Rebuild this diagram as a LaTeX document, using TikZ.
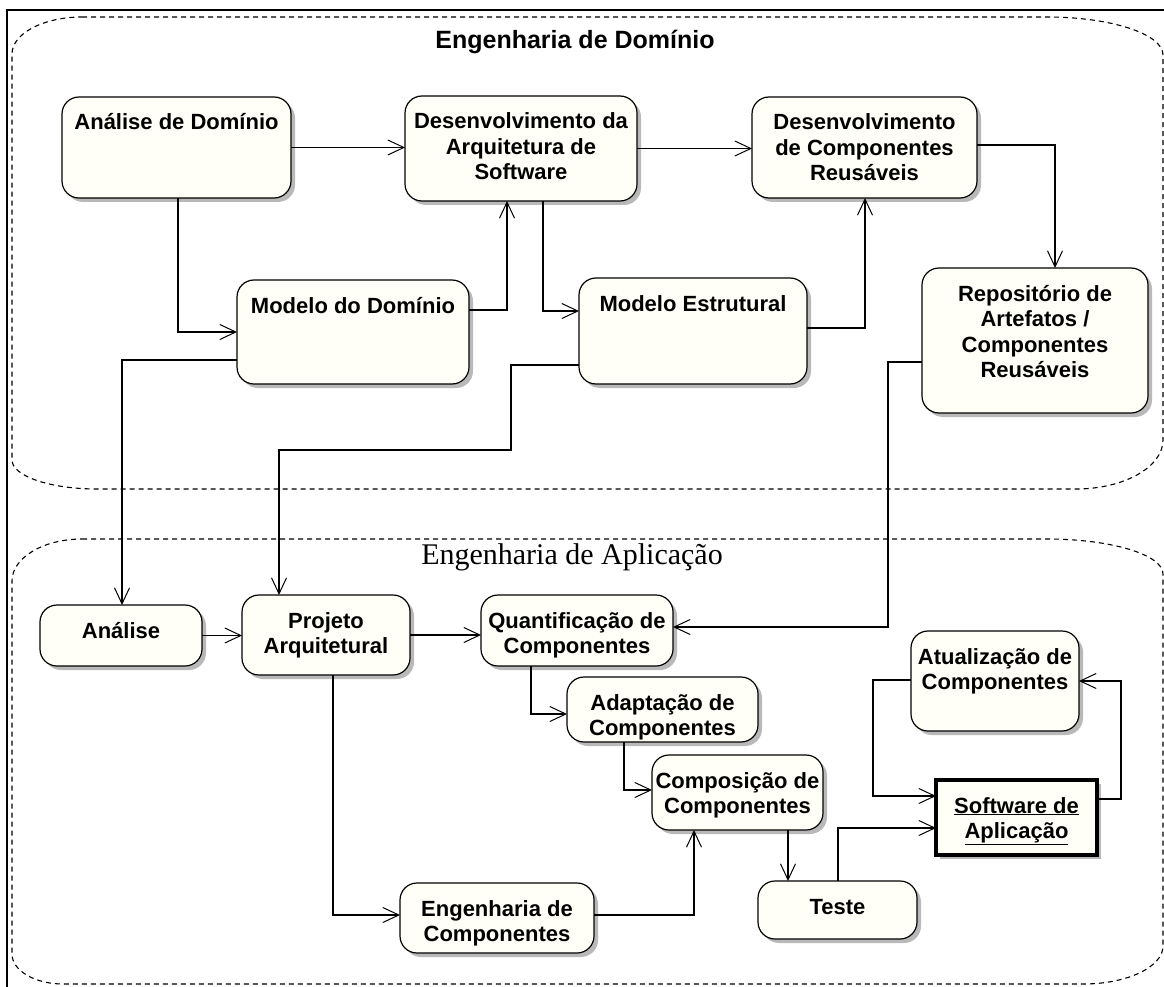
\documentclass[tikz,border=0pt]{standalone}
\usepackage{fontspec}
\setmainfont{Liberation Sans}
\newfontfamily\serifregion{Liberation Serif}
\usetikzlibrary{arrows.meta}
\usetikzlibrary{shadows}
\definecolor{actfill}{RGB}{255,255,247}
\definecolor{actshadow}{RGB}{185,185,185}
\tikzset{flow/.style={line width=1.2pt, -{Straight Barb[length=16pt, width=15pt, line width=1pt]}}}
\tikzset{activity/.style={draw, line width=1.2pt, rounded corners=17pt, fill=actfill,
    anchor=north west, inner sep=0pt, outer sep=0pt,
    drop shadow={shadow xshift=4pt, shadow yshift=-4pt, fill=actshadow, opacity=1},
    font=\fontsize{22}{25.5}\selectfont\bfseries}}
\tikzset{artifact/.style={activity, sharp corners, line width=4pt}}
\tikzset{region/.style={line width=1.1pt, dash pattern=on 5pt off 4pt}}
\newcommand*{\actv}[3]{\parbox[c][#2pt][t]{#1pt}{\centering\rule{0pt}{33pt}#3}}

\begin{document}
\begin{tikzpicture}[x=1pt, y=-1pt]
    \useasboundingbox (0,0) rectangle (1164,987);
    \draw[region] (82,17) -- (1047,17) arc[start angle=-90, end angle=0, x radius=116, y radius=38] -- (1163,440) arc[start angle=0, end angle=90, x radius=87, y radius=49] -- (97,489) arc[start angle=90, end angle=180, x radius=85, y radius=29] -- (12,54) arc[start angle=180, end angle=270, x radius=70, y radius=37] -- cycle;
    \draw[region] (82,539) -- (1047,539) arc[start angle=-90, end angle=0, x radius=116, y radius=35] -- (1163,946) arc[start angle=0, end angle=90, x radius=80, y radius=38] -- (63,984) arc[start angle=90, end angle=180, x radius=51, y radius=30] -- (12,581) arc[start angle=180, end angle=270, x radius=70, y radius=42] -- cycle;
    \draw[line width=2pt] (7,987) -- (7,10) -- (1164,10);
    \node[font=\fontsize{25}{30}\selectfont\bfseries] (tdom) at (575,42) {Engenharia de Domínio};
    \node[font=\serifregion\fontsize{30}{34}\selectfont] (tapl) at (572,557) {Engenharia de Aplicação};
    \node[activity] (adom) at (62,97) {\actv{229}{101}{Análise de Domínio}};
    \node[activity] (darq) at (405,96) {\actv{232}{105}{Desenvolvimento da\\Arquitetura de\\Software}};
    \node[activity] (dcomp) at (752,97) {\actv{225}{101}{Desenvolvimento\\de Componentes\\Reusáveis}};
    \node[activity] (repo) at (922,268) {\actv{226}{145}{Repositório de\\Artefatos /\\Componentes\\Reusáveis}};
    \node[activity] (mdom) at (237,280) {\actv{232}{104}{Modelo do Domínio}};
    \node[activity] (mest) at (579,278) {\actv{228}{106}{Modelo Estrutural}};
    \node[activity] (anal) at (40,605) {\actv{162}{61}{Análise}};
    \node[activity] (proj) at (242,595) {\actv{168}{80}{Projeto\\Arquitetural}};
    \node[activity] (quant) at (481,595) {\actv{192}{71}{Quantificação de\\Componentes}};
    \node[activity] (adap) at (567,677) {\actv{191}{65}{Adaptação de\\Componentes}};
    \node[activity] (comp) at (652,755) {\actv{171}{75}{Composição de\\Componentes}};
    \node[activity] (engc) at (400,883) {\actv{194}{70}{Engenharia de\\Componentes}};
    \node[activity] (teste) at (758,881) {\actv{159}{58}{Teste}};
    \node[artifact] (soft) at (936,780) {\actv{161}{75}{\underline{Software de}\\\underline{Aplicação}}};
    \node[activity] (atual) at (911,631) {\actv{168}{100}{Atualização de\\Componentes}};
    \draw[flow] (adom.east) -- (darq.west |- adom.east);
    \draw[flow] (adom.south -| 178,0) |- (mdom.west |- 0,332);
    \draw[flow] (mdom.east |- 0,310) -| (darq.south -| 507,0);
    \draw[flow] (darq.south -| 543,0) |- (mest.west |- 0,311);
    \draw[flow] (darq.east) -- (dcomp.west |- darq.east);
    \draw[flow] (mest.east |- 0,328) -| (dcomp.south -| 865,0);
    \draw[flow] (dcomp.east |- 0,145) -| (repo.north -| 1055,0);
    \draw[flow] (mdom.west |- 0,360) -| (anal.north -| 122,0);
    \draw[flow] (mest.west |- 0,365) -| (511,450) -| (proj.north -| 279,0);
    \draw[flow] (repo.west |- 0,362) -| (888,627) -- (quant.east |- 0,627);
    \draw[flow] (anal.east) -- (proj.west |- anal.east);
    \draw[flow] (proj.east |- 0,635) -- (quant.west |- 0,635);
    \draw[flow] (quant.south -| 531,0) |- (adap.west |- 0,714);
    \draw[flow] (adap.south -| 624,0) |- (comp.west |- 0,790);
    \draw[flow] (proj.south -| 333,0) |- (engc.west |- 0,915);
    \draw[flow] (engc.east |- 0,915) -| (comp.south -| 694,0);
    \draw[flow] (comp.south -| 788,0) -- (teste.north -| 788,0);
    \draw[flow] (teste.north -| 838,0) |- (soft.west |- 0,828);
    \draw[flow] (atual.west |- 0,680) -| (873,796) -- (soft.west |- 0,796);
    \draw[flow] (soft.east |- 0,799) -| (1121,681) -- (atual.east |- 0,681);
\end{tikzpicture}
\end{document}
